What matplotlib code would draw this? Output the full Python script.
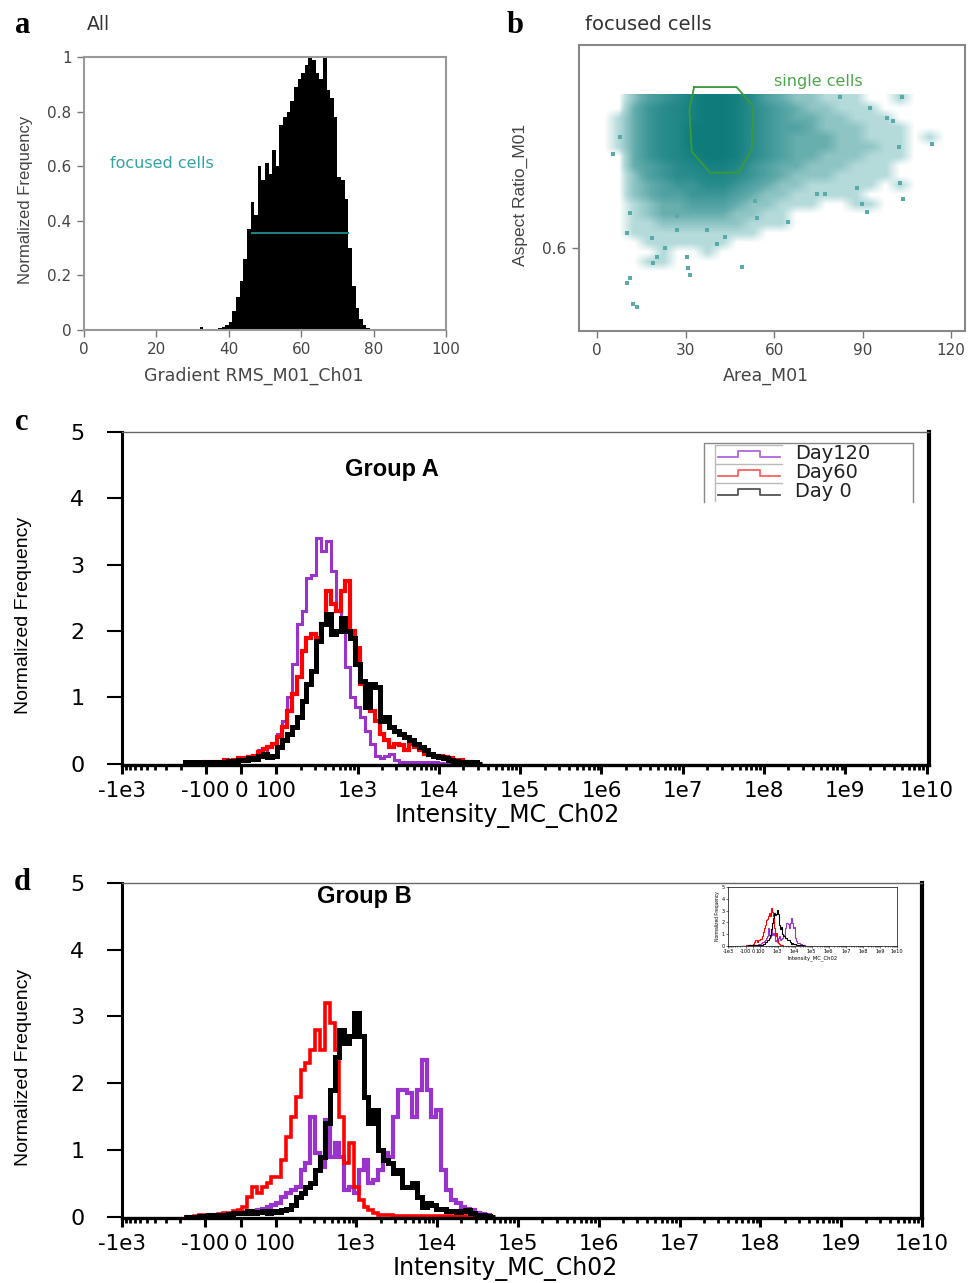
import numpy as np
import matplotlib
matplotlib.use('Agg')
import matplotlib.pyplot as plt
from matplotlib.colors import LinearSegmentedColormap

plt.rcParams['font.family'] = ['DejaVu Sans']
ARIAL = ['Liberation Sans', 'DejaVu Sans']

# ---------------- panel a : Gradient RMS histogram (1 unit bins, 30..80)
grad_left = np.arange(30, 80)
grad_freq = [0, 0, 0.012, 0.004, 0.002, 0.003, 0.004, 0.006, 0.012, 0.02,
             0.03, 0.07, 0.12, 0.18, 0.26, 0.37, 0.47, 0.42, 0.60, 0.55,
             0.61, 0.57, 0.66, 0.60, 0.75, 0.78, 0.80, 0.84, 0.89, 0.92,
             0.94, 0.97, 1.00, 0.99, 0.94, 0.92, 1.00, 0.88, 0.85, 0.78,
             0.56, 0.55, 0.48, 0.30, 0.16, 0.08, 0.04, 0.02, 0.008, 0.002]
focus_gate = [46.3, 72.9]
focus_level = 0.355

# ---------------- panel b : Area vs Aspect ratio (density read per 5 x 0.025 cell)
area_edges = [0, 120]
ratio_edges = [0.45, 1.0]
density = [
    [0, 0, 2, 4, 5, 6, 8, 9, 9, 8, 6, 4, 3, 2, 2, 1, 1, 1, 0, 0, 1, 0, 0, 0],
    [0, 0, 3, 5, 6, 7, 8, 9, 9, 8, 6, 5, 4, 3, 2, 2, 1, 1, 1, 0, 0, 0, 0, 0],
    [0, 1, 3, 5, 6, 7, 8, 9, 9, 8, 6, 5, 4, 3, 3, 2, 2, 1, 1, 1, 0, 0, 0, 0],
    [0, 1, 3, 5, 6, 7, 9, 9, 9, 8, 6, 5, 4, 4, 3, 2, 2, 2, 1, 1, 1, 0, 0, 0],
    [0, 1, 3, 5, 6, 7, 9, 9, 9, 8, 6, 5, 4, 3, 3, 3, 2, 2, 1, 1, 1, 0, 1, 0],
    [0, 1, 3, 5, 6, 7, 9, 9, 9, 8, 6, 5, 4, 3, 3, 3, 2, 2, 2, 1, 1, 0, 0, 0],
    [0, 0, 3, 5, 6, 7, 8, 9, 9, 8, 6, 5, 4, 3, 3, 2, 2, 2, 1, 1, 1, 0, 0, 0],
    [0, 0, 3, 4, 5, 6, 7, 8, 8, 7, 5, 4, 3, 3, 2, 2, 2, 1, 1, 1, 0, 0, 0, 0],
    [0, 0, 2, 4, 5, 6, 6, 7, 7, 6, 5, 4, 3, 2, 2, 2, 1, 1, 1, 1, 0, 0, 0, 0],
    [0, 0, 2, 3, 4, 5, 5, 6, 6, 5, 4, 3, 2, 2, 1, 1, 1, 1, 1, 0, 1, 0, 0, 0],
    [0, 0, 2, 3, 4, 4, 5, 5, 5, 4, 3, 2, 2, 1, 1, 1, 1, 1, 0, 0, 0, 0, 0, 0],
    [0, 0, 1, 2, 3, 3, 4, 4, 4, 3, 2, 2, 1, 1, 1, 0, 0, 1, 1, 0, 0, 0, 0, 0],
    [0, 0, 1, 2, 3, 3, 3, 3, 3, 2, 2, 1, 1, 0, 0, 0, 0, 0, 0, 0, 0, 0, 0, 0],
    [0, 0, 1, 1, 2, 2, 2, 2, 2, 2, 1, 1, 1, 0, 0, 0, 0, 0, 0, 0, 0, 0, 0, 0],
    [0, 0, 1, 1, 1, 1, 1, 1, 1, 1, 1, 0, 0, 0, 0, 0, 0, 0, 0, 0, 0, 0, 0, 0],
    [0, 0, 0, 1, 1, 1, 1, 1, 1, 0, 0, 0, 0, 0, 0, 0, 0, 0, 0, 0, 0, 0, 0, 0],
    [0, 0, 0, 0, 1, 0, 0, 1, 0, 0, 0, 0, 0, 0, 0, 0, 0, 0, 0, 0, 0, 0, 0, 0],
    [0, 0, 0, 1, 1, 0, 0, 0, 0, 0, 0, 0, 0, 0, 0, 0, 0, 0, 0, 0, 0, 0, 0, 0],
    [0, 0, 0, 0, 0, 0, 0, 0, 0, 0, 0, 0, 0, 0, 0, 0, 0, 0, 0, 0, 0, 0, 0, 0],
    [0, 0, 0, 0, 0, 0, 0, 0, 0, 0, 0, 0, 0, 0, 0, 0, 0, 0, 0, 0, 0, 0, 0, 0],
    [0, 0, 0, 0, 0, 0, 0, 0, 0, 0, 0, 0, 0, 0, 0, 0, 0, 0, 0, 0, 0, 0, 0, 0],
    [0, 0, 0, 0, 0, 0, 0, 0, 0, 0, 0, 0, 0, 0, 0, 0, 0, 0, 0, 0, 0, 0, 0, 0],
]
outlier_area = [13.4, 12.3, 10.1, 11.2, 19.1, 20.2, 23.0, 31.0, 31.5, 30.4, 49.0,
                40.5, 43.4, 64.8, 91.4, 89.7, 103.8, 102.7, 113.4, 103.3, 102.2,
                5.5, 7.8, 98.2, 100.4, 82.4, 92.5, 88.2, 74.5, 77.3, 54.1, 53.6,
                10.1, 11.2, 27.0, 27.0, 37.2, 18.5]
outlier_ratio = [0.446, 0.454, 0.508, 0.521, 0.560, 0.577, 0.599, 0.547, 0.529, 0.577,
                 0.550, 0.610, 0.628, 0.667, 0.693, 0.714, 0.727, 0.771, 0.871, 0.994,
                 0.865, 0.847, 0.890, 0.941, 0.932, 0.994, 0.966, 0.757, 0.740, 0.740,
                 0.679, 0.723, 0.640, 0.692, 0.683, 0.648, 0.648, 0.626]
gate_area = [32.9, 47.3, 53.0, 52.4, 47.9, 38.3, 32.1, 31.3, 32.9]
gate_ratio = [1.021, 1.021, 0.970, 0.857, 0.797, 0.797, 0.852, 0.961, 1.021]

# ---------------- panels c, d : intensity histograms
tick_values = [-1e3, -100, 0, 100, 1e3, 1e4, 1e5, 1e6, 1e7, 1e8, 1e9, 1e10]
tick_labels = ['-1e3', '-100', '0', '100', '1e3', '1e4', '1e5', '1e6',
               '1e7', '1e8', '1e9', '1e10']
days = ['Day120', 'Day60', 'Day 0']
day_colors = ['#9933cc', '#ff0000', '#000000']
bin_start, bin_width = 0.87, 0.06   # bins in display (decade) units

groupA_day120 = [0, 0, 0, 0.02, 0.02, 0.02, 0.03, 0.03, 0.03, 0.05,
                 0.06, 0.07, 0.08, 0.10, 0.12, 0.20, 0.15, 0.25, 0.30, 0.45,
                 0.65, 1.00, 1.50, 2.10, 2.30, 2.80, 2.85, 3.40, 3.20, 3.35,
                 2.90, 2.30, 2.00, 1.45, 1.00, 0.85, 0.70, 0.50, 0.30, 0.12,
                 0.08, 0.12, 0.15, 0.05, 0.03, 0.02, 0.02, 0.02, 0.02, 0.02,
                 0.02, 0.02, 0.01, 0.01, 0.01, 0, 0, 0, 0, 0, 0]
groupA_day60 = [0, 0, 0, 0, 0.02, 0.02, 0.03, 0.03, 0.05, 0.04,
                0.06, 0.08, 0.08, 0.10, 0.12, 0.18, 0.22, 0.25, 0.30, 0.40,
                0.55, 0.80, 1.05, 1.30, 1.70, 1.90, 1.95, 1.90, 2.10, 2.60,
                2.40, 2.30, 2.60, 2.75, 2.00, 1.75, 1.20, 1.10, 0.80, 0.65,
                0.45, 0.35, 0.25, 0.30, 0.28, 0.20, 0.30, 0.25, 0.20, 0.15,
                0.13, 0.12, 0.12, 0.10, 0.08, 0.06, 0.05, 0.03, 0.02, 0.01, 0]
groupA_day0 = [0.03, 0.02, 0.01, 0.02, 0.01, 0.03, 0.02, 0.03, 0.03, 0.04,
               0.04, 0.05, 0.06, 0.08, 0.07, 0.12, 0.15, 0.10, 0.12, 0.25,
               0.35, 0.45, 0.55, 0.70, 0.95, 1.20, 1.40, 1.85, 2.10, 2.25,
               1.95, 2.00, 2.20, 2.00, 1.90, 1.50, 1.25, 0.85, 1.20, 1.15,
               0.65, 0.70, 0.55, 0.50, 0.45, 0.40, 0.35, 0.30, 0.25, 0.20,
               0.15, 0.12, 0.10, 0.08, 0.06, 0.04, 0.03, 0.02, 0.03, 0.02, 0]

groupB_day120 = [0, 0, 0, 0, 0.01, 0.01, 0.02, 0.02, 0.03, 0.04,
                 0.05, 0.06, 0.07, 0.08, 0.09, 0.10, 0.12, 0.15, 0.18, 0.20,
                 0.30, 0.35, 0.40, 0.45, 0.70, 0.80, 1.50, 0.95, 0.75, 1.45,
                 0.90, 1.10, 0.90, 0.40, 0.45, 0.35, 0.70, 0.85, 0.50, 0.55,
                 0.70, 0.95, 0.90, 1.50, 1.90, 1.90, 1.85, 1.50, 1.90, 2.35,
                 1.90, 1.50, 1.60, 0.70, 0.40, 0.25, 0.20, 0.15, 0.12, 0.10,
                 0.06, 0.04, 0.02, 0]
groupB_day60 = [0, 0, 0.01, 0.02, 0.02, 0.03, 0.03, 0.04, 0.05, 0.06,
                0.08, 0.10, 0.15, 0.30, 0.45, 0.35, 0.45, 0.50, 0.60, 0.60,
                0.85, 1.20, 1.50, 1.80, 2.20, 2.30, 2.50, 2.80, 2.50, 3.20,
                2.90, 2.50, 1.50, 0.80, 1.10, 0.45, 0.25, 0.15, 0.10, 0.05,
                0.03, 0.02, 0.02, 0.01, 0.01, 0.01, 0.01, 0.01, 0.01, 0.01,
                0.01, 0.01, 0.01, 0.01, 0.01, 0.01, 0.01, 0.01, 0.01, 0.01,
                0.01, 0.01, 0, 0]
groupB_day0 = [0, 0, 0, 0.01, 0.01, 0.02, 0.02, 0.03, 0.03, 0.04,
               0.05, 0.05, 0.06, 0.08, 0.05, 0.07, 0.08, 0.06, 0.08, 0.07,
               0.10, 0.12, 0.18, 0.30, 0.35, 0.45, 0.50, 0.70, 0.90, 1.40,
               1.90, 2.40, 2.80, 2.60, 2.70, 3.05, 2.70, 1.80, 1.40, 1.60,
               1.00, 0.85, 0.80, 0.65, 0.70, 0.45, 0.45, 0.50, 0.30, 0.15,
               0.20, 0.18, 0.12, 0.12, 0.09, 0.08, 0.07, 0.08, 0.10, 0.06,
               0.03, 0.02, 0.01, 0]


def hlog(v):
    # hyperlog-like display scale of the cytometer software
    v = np.asarray(v, dtype=float)
    out = np.empty_like(v)
    pos = v >= 100
    out[pos] = np.log10(v[pos])
    mp = (v >= 0) & (v < 100)
    out[mp] = 1.57 + 0.43 * v[mp] / 100
    mn = (v >= -100) & (v < 0)
    out[mn] = 1.57 + 0.44 * v[mn] / 100
    neg = v < -100
    out[neg] = 1.13 - 1.03 * np.log10(-v[neg] / 100)
    return out


W, H = 970, 1283
fig = plt.figure(figsize=(W / 100, H / 100), dpi=100)


def rect(x0, y0, x1, y1):
    return [x0 / W, 1 - y1 / H, (x1 - x0) / W, (y1 - y0) / H]


def ftext(px, py, s, **kw):
    fig.text(px / W, 1 - py / H, s, **kw)


letter = dict(fontsize=22, fontweight='bold', family=['Liberation Serif', 'DejaVu Serif'],
              va='baseline')
ftext(15, 33, 'a', **letter)
ftext(507, 33, 'b', **letter)
ftext(15, 430, 'c', **letter)
ftext(14, 890, 'd', **letter)

# ---------------- a
ax = fig.add_axes(rect(84, 57, 446, 330))
ax.bar(grad_left, grad_freq, width=1.0, align='edge', color='black', edgecolor='none')
ax.plot(focus_gate, [focus_level, focus_level], color='#1d7f7f', lw=1.5)
ax.text(7.3, 0.61, 'focused cells', color='#35a3a3', fontsize=11.5, va='center')
ax.set_xlim(0, 100)
ax.set_ylim(0, 1)
ax.set_xticks([0, 20, 40, 60, 80, 100])
ax.set_yticks([0, 0.2, 0.4, 0.6, 0.8, 1])
ax.set_yticklabels(['0', '0.2', '0.4', '0.6', '0.8', '1'])
ax.tick_params(direction='out', length=5, width=1, color='#777', labelcolor='#444',
               labelsize=11, pad=4)
for s in ax.spines.values():
    s.set_color('#999')
    s.set_linewidth(1.5)
ax.set_xlabel('Gradient RMS_M01_Ch01', fontsize=12.5, color='#444')
ax.xaxis.set_label_coords(0.47, -0.135)
ax.set_ylabel('Normalized Frequency', fontsize=12, color='#444', family=ARIAL)
ax.yaxis.set_label_coords(-0.14, 0.476)
ftext(87, 30, 'All', fontsize=13.5, color='#333', va='baseline')

# ---------------- b
ax = fig.add_axes(rect(579, 45, 965, 331))
teal = LinearSegmentedColormap.from_list(
    'teal', [(0, '#ffffff'), (0.1, '#b8dcdc'), (0.35, '#62abab'),
             (0.65, '#2b8d8d'), (1, '#0f7b7b')])
ax.imshow(np.array(density), cmap=teal, vmin=0, vmax=9, aspect='auto',
          interpolation='bilinear', origin='upper',
          extent=(area_edges[0], area_edges[1], ratio_edges[0], ratio_edges[1]), zorder=1)
ax.scatter(outlier_area, outlier_ratio, s=6, marker='s', color='#5aaaaa', lw=0, zorder=2)
ax.plot(gate_area, gate_ratio, color='#3a9a3a', lw=1.3, zorder=3)
ax.text(60, 1.035, 'single cells', color='#4aa84a', fontsize=11.5, va='center')
ax.set_xlim(-6.1, 124.7)
ax.set_ylim(0.383, 1.131)
ax.set_xticks([0, 30, 60, 90, 120])
ax.set_yticks([0.6])
ax.tick_params(direction='out', length=5, width=1, color='#777', labelcolor='#444',
               labelsize=11, pad=4)
for s in ax.spines.values():
    s.set_color('#888')
    s.set_linewidth(1.5)
ax.set_xlabel('Area_M01', fontsize=12.5, color='#444')
ax.xaxis.set_label_coords(0.484, -0.125)
ax.set_ylabel('Aspect Ratio_M01', fontsize=12.5, color='#444', family=ARIAL)
ax.yaxis.set_label_coords(-0.132, 0.476)
ftext(585, 30, 'focused cells', fontsize=14, color='#333', va='baseline')

# ---------------- c / d
minor_vals = [m * 10.0 ** k for k in range(2, 10) for m in range(2, 10)] + \
             [-m * 100.0 for m in range(2, 10)]


def intensity_axes(r, xlim, series, widths, small=False):
    ax = fig.add_axes(r)
    for vals, col, lw in zip(series, day_colors, widths):
        edges = bin_start + bin_width * np.arange(len(vals) + 1)
        ax.stairs(vals, edges, color=col, lw=lw, baseline=0)
    ax.set_xlim(*xlim)
    ax.set_ylim(-0.02, 5)
    ax.set_yticks(range(6))
    ax.set_xticks(hlog(tick_values))
    ax.set_xticklabels(tick_labels)
    ax.set_xticks(hlog(minor_vals), minor=True)
    if small:
        for s in ax.spines.values():
            s.set_linewidth(0.5)
        ax.tick_params(length=1.5, width=0.4, labelsize=3.6, pad=0.8)
        ax.tick_params(which='minor', length=0.8, width=0.4)
        ax.set_xlabel('Intensity_MC_Ch02', fontsize=3.8, labelpad=0.5)
        ax.set_ylabel('Normalized Frequency', fontsize=3.5, labelpad=1, family=ARIAL)
        return ax
    ax.spines['left'].set_linewidth(2.2)
    ax.spines['bottom'].set_linewidth(2.4)
    ax.spines['right'].set_linewidth(3)
    ax.spines['top'].set_linewidth(1)
    ax.spines['top'].set_color('#666')
    ax.tick_params(axis='y', direction='out', length=11, width=1.5, labelsize=16,
                   pad=16)
    ax.tick_params(axis='x', which='major', direction='out', length=6.5, width=2.2,
                   labelsize=15.5, pad=5)
    ax.tick_params(axis='x', which='minor', direction='out', length=3.5, width=2)
    ax.set_xlabel('Intensity_MC_Ch02', fontsize=17)
    ax.xaxis.label.set_va('baseline')
    ax.set_ylabel('Normalized Frequency', fontsize=14, family=ARIAL)
    return ax


ax_c = intensity_axes(rect(122, 432, 929, 765), (0.1, 10.03),
                      [groupA_day120, groupA_day60, groupA_day0], [2.2, 3.0, 3.6])
ax_c.xaxis.set_label_coords(0.478, -0.172)
ax_c.yaxis.set_label_coords(-0.111, 0.45)
ftext(392, 476, 'Group A', fontsize=17, fontweight='bold', family=ARIAL,
      ha='center', va='baseline')

# hand drawn style legend of the original software
tr = ax_c.transAxes
frame = dict(color='#888', lw=1, transform=tr, clip_on=False)
ax_c.plot([0.721, 0.721, 0.980, 0.980], [0.790, 0.967, 0.967, 0.790], **frame)
icon_x = [0.7385, 0.7633, 0.7633, 0.7906, 0.7906, 0.8154]
icon_cols = ['#b067e0', '#ff6060', '#555555']
for i, (name, col) in enumerate(zip(days, icon_cols)):
    yc = 0.934 - i * 0.057
    ax_c.plot([0.735, 0.735, 0.818], [yc - 0.026, yc + 0.026, yc + 0.026],
              color='#bbb', lw=1, transform=tr)
    ax_c.plot(icon_x, [yc - 0.010, yc - 0.010, yc + 0.010, yc + 0.010, yc - 0.010, yc - 0.010],
              color=col, lw=1.3, transform=tr)
    ax_c.text(0.834, yc, name, transform=tr, fontsize=14, va='center', color='#222')

ax_d = intensity_axes(rect(122, 883, 922, 1218), (0.16, 10.0),
                      [groupB_day120, groupB_day60, groupB_day0], [3.0, 2.6, 3.6])
ax_d.xaxis.set_label_coords(0.479, -0.170)
ax_d.yaxis.set_label_coords(-0.112, 0.45)
ftext(364, 903, 'Group B', fontsize=17, fontweight='bold', family=ARIAL,
      ha='center', va='baseline')

ax_in = intensity_axes(rect(728, 887, 897, 946), (0.16, 10.0),
                       [groupB_day120, groupB_day60, groupB_day0], [0.8, 0.8, 0.8],
                       small=True)

fig.savefig('out.png', dpi=100)
